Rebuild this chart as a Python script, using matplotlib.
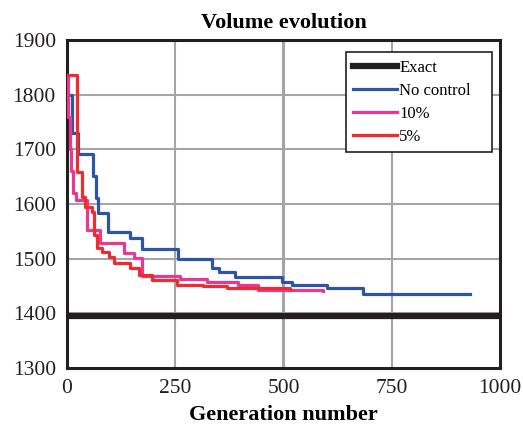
import matplotlib
matplotlib.use("Agg")
import matplotlib.pyplot as plt

# values (step curves, best volume per generation)
exact_volume = 1395

gen_noctrl = [0, 12, 25, 61, 68, 72, 95, 146, 173, 256, 335, 350, 388, 497, 520, 600, 684, 931]
vol_noctrl = [1800, 1730, 1691, 1652, 1611, 1583, 1549, 1538, 1518, 1499, 1483, 1475, 1466, 1457, 1452, 1446, 1436, 1436]

gen_10 = [0, 2, 6, 10, 14, 22, 46, 76, 131, 154, 173, 261, 323, 395, 441, 591]
vol_10 = [1836, 1760, 1700, 1660, 1620, 1607, 1552, 1529, 1510, 1501, 1468, 1463, 1457, 1452, 1443, 1441]

gen_5 = [0, 23, 35, 42, 58, 62, 69, 81, 97, 109, 146, 166, 196, 254, 314, 369, 515]
vol_5 = [1836, 1658, 1613, 1595, 1585, 1543, 1519, 1512, 1503, 1492, 1483, 1470, 1461, 1452, 1450, 1446, 1444]

x_ticks = [0, 250, 500, 750, 1000]
y_ticks = [1300, 1400, 1500, 1600, 1700, 1800, 1900]

plt.rcParams['font.family'] = ['Liberation Serif', 'DejaVu Serif']

fig = plt.figure(figsize=(5.23, 4.28), dpi=100)
ax = fig.add_axes([0.128, 0.140, 0.828, 0.7665])

# grid
for x in x_ticks[1:-1]:
    ax.axvline(x, color='#a3a5a8', lw=2.2 if x == 500 else 1.5, zorder=0)
for y in y_ticks[1:-1]:
    ax.axhline(y, color='#a3a5a8', lw=1.5, zorder=0)

ax.axhline(exact_volume, color='#231f20', lw=4.5, label='Exact', zorder=2)
ax.plot(gen_noctrl, vol_noctrl, drawstyle='steps-post', color='#2f53a5', lw=2.3, label='No control', zorder=3)
ax.plot(gen_10, vol_10, drawstyle='steps-post', color='#e8388f', lw=2.3, label='10%', zorder=4)
ax.plot(gen_5, vol_5, drawstyle='steps-post', color='#ee2b2e', lw=2.3, label='5%', zorder=5)

ax.set_xlim(0, 1000)
ax.set_ylim(1300, 1900)
ax.set_xticks(x_ticks)
ax.set_yticks(y_ticks)
ax.tick_params(length=0, labelsize=15.5, colors='#231f20', pad=8)
for s in ax.spines.values():
    s.set_linewidth(2.2)
    s.set_color('#231f20')

ax.set_title('Volume evolution', fontsize=16, fontweight='bold', pad=9)
ax.set_xlabel('Generation number', fontsize=16, fontweight='bold', labelpad=5)

leg = ax.legend(loc='upper left', bbox_to_anchor=(0.644, 0.962, 0.337, 0), mode='expand',
                fontsize=12, fancybox=False, framealpha=1, edgecolor='#231f20',
                handlelength=2.6, handletextpad=0.15, labelspacing=0.42,
                borderpad=0.45, borderaxespad=0)
leg.get_frame().set_linewidth(1.2)

fig.savefig('out.png', dpi=100)
